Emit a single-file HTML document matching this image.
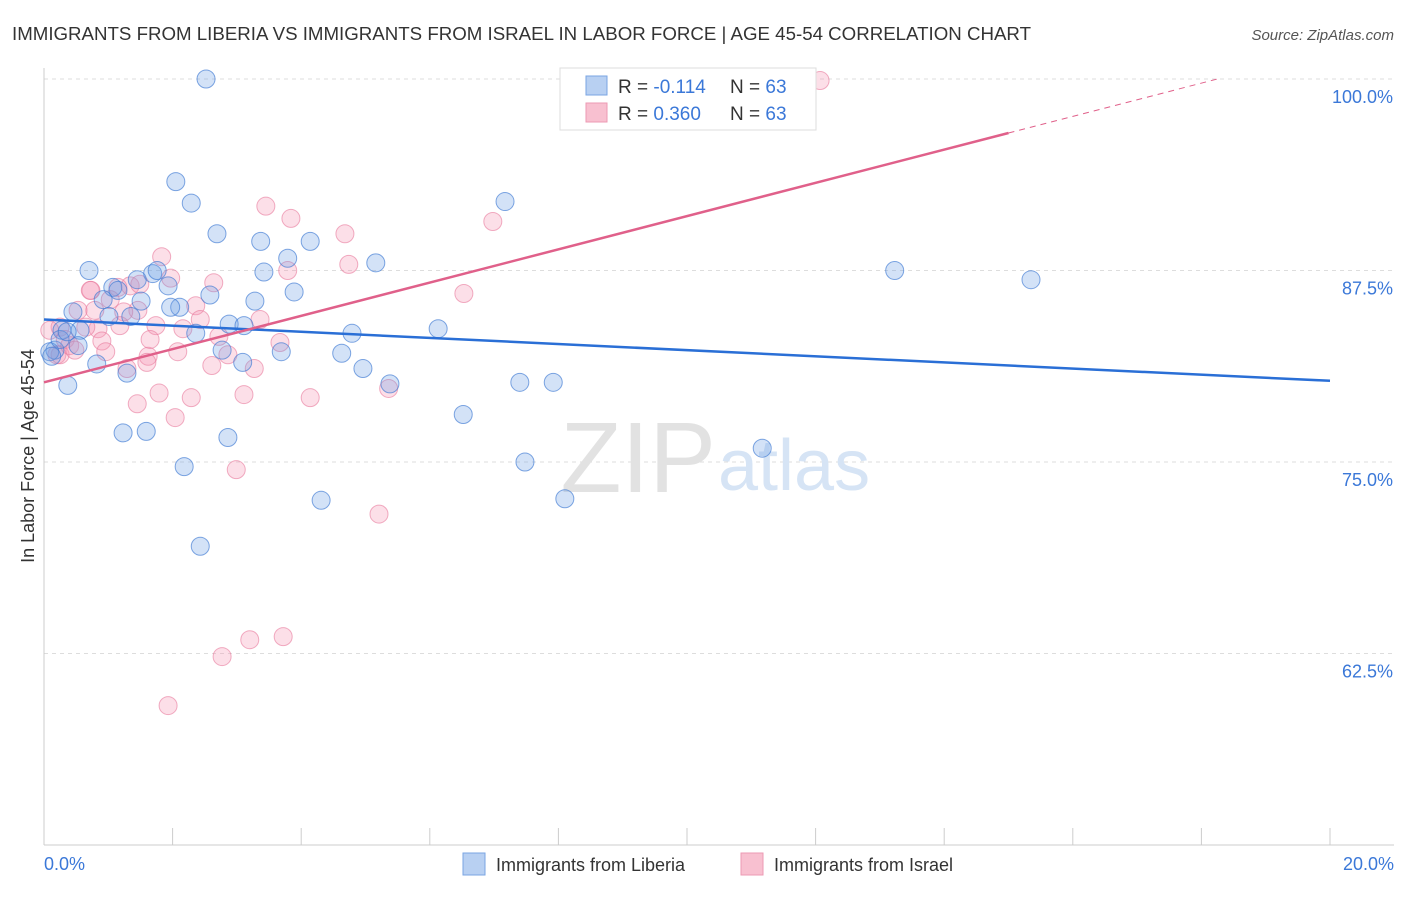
<!DOCTYPE html>
<html><head><meta charset="utf-8"><style>
body{margin:0;background:#fff;font-family:"Liberation Sans",sans-serif;}
svg text{font-family:"Liberation Sans",sans-serif;}
</style></head><body>
<svg width="1406" height="892">
<text x="12" y="40" font-size="18.7" fill="#333">IMMIGRANTS FROM LIBERIA VS IMMIGRANTS FROM ISRAEL IN LABOR FORCE | AGE 45-54 CORRELATION CHART</text>
<text x="1394" y="40" font-size="15" fill="#555" text-anchor="end" font-style="italic">Source: ZipAtlas.com</text>
<g id="grid"></g>
<text x="716" y="492" font-size="100" fill="#e2e2e2" text-anchor="end" font-family="Liberation Serif">ZIP</text>
<text x="718" y="490" font-size="72" fill="#d6e4f5">atlas</text>
<line x1="44" y1="68" x2="44" y2="845" stroke="#ccc"/>
<line x1="44" y1="845" x2="1394" y2="845" stroke="#ccc"/>
<g id="ticks"></g>
<g id="pts"></g>
<g id="lines"></g>
<text transform="translate(34,456) rotate(-90)" font-size="18" fill="#333" text-anchor="middle">In Labor Force | Age 45-54</text>
<text x="44" y="870" font-size="18" fill="#3b78d8">0.0%</text>
<text x="1394" y="870" font-size="18" fill="#3b78d8" text-anchor="end">20.0%</text>
<g>
<rect x="560" y="68" width="256" height="62" fill="#fff" stroke="#ddd"/>
<rect x="586" y="76" width="21" height="19" fill="#b8d0f2" stroke="#7aa5e3"/>
<rect x="586" y="103" width="21" height="19" fill="#f8c0d0" stroke="#ec9ab3"/>
<text x="618" y="93" font-size="19" fill="#333">R = <tspan fill="#3b78d8">-0.114</tspan></text>
<text x="730" y="93" font-size="19" fill="#333">N = <tspan fill="#3b78d8">63</tspan></text>
<text x="618" y="120" font-size="19" fill="#333">R = <tspan fill="#3b78d8">0.360</tspan></text>
<text x="730" y="120" font-size="19" fill="#333">N = <tspan fill="#3b78d8">63</tspan></text>
</g>
<g>
<rect x="463" y="853" width="22" height="22" fill="#b8d0f2" stroke="#7aa5e3"/>
<text x="496" y="871" font-size="18" fill="#333">Immigrants from Liberia</text>
<rect x="741" y="853" width="22" height="22" fill="#f8c0d0" stroke="#ec9ab3"/>
<text x="774" y="871" font-size="18" fill="#333">Immigrants from Israel</text>
</g>
</svg>
<script>
const yTicks=[100,87.5,75,62.5];
const yTickLabels=["100.0%","87.5%","75.0%","62.5%"];
const xTicks=[0,2,4,6,8,10,12,14,16,18,20];
const liberiaX=[2.52,2.05,2.29,2.69,3.37,4.14,3.79,5.16,3.42,0.70,1.69,1.76,1.45,1.93,1.07,1.15,3.89,2.58,0.92,1.51,3.28,2.11,1.97,0.45,1.01,1.35,2.88,3.11,0.28,0.56,2.36,4.79,6.13,0.53,0.17,2.77,3.69,4.63,0.82,3.09,4.96,1.29,5.38,7.40,7.92,0.37,6.52,1.23,1.59,2.86,2.18,7.48,11.17,4.31,8.10,2.43,13.23,15.35,7.17,0.09,0.12,0.25,0.36];
const liberiaY=[100,93.3,91.9,89.9,89.4,89.4,88.3,88.0,87.4,87.5,87.3,87.5,86.9,86.5,86.4,86.2,86.1,85.9,85.6,85.5,85.5,85.1,85.1,84.8,84.5,84.5,84.0,83.9,83.6,83.6,83.4,83.4,83.7,82.6,82.3,82.3,82.2,82.1,81.4,81.5,81.1,80.8,80.1,80.2,80.2,80.0,78.1,76.9,77.0,76.6,74.7,75.0,75.9,72.5,72.6,69.5,87.5,86.9,92.0,82.2,81.9,83.0,83.5];
const israelX=[11.85,12.07,8.51,3.45,3.84,6.98,4.68,1.83,4.74,3.79,1.97,2.64,0.73,1.15,1.34,6.53,2.36,1.46,0.53,1.24,1.74,2.16,0.84,0.25,0.65,2.72,3.67,0.90,0.33,0.96,2.08,1.62,2.86,0.20,2.61,1.29,3.27,1.60,5.36,1.79,2.29,3.11,4.14,1.45,2.04,2.99,5.21,3.72,3.20,2.77,1.93,0.25,0.40,0.72,1.03,0.48,0.09,1.49,1.18,0.79,1.65,2.43,3.36];
const israelY=[100,99.9,98.2,91.7,90.9,90.7,89.9,88.4,87.9,87.5,87.0,86.7,86.2,86.4,86.5,86.0,85.2,84.9,84.9,84.8,83.9,83.7,83.7,83.8,83.8,83.2,82.8,82.9,83.0,82.2,82.2,81.9,82.0,82.0,81.3,81.1,81.1,81.5,79.8,79.5,79.2,79.4,79.2,78.8,77.9,74.5,71.6,63.6,63.4,62.3,59.1,82.0,82.6,86.2,85.6,82.3,83.6,86.6,83.9,84.9,83.0,84.3,84.3];
const liberiaTrend=[84.3,-0.2];
const israelTrend=[80.2,1.085];
const X0=44,X1=1330,YT=79,PPY=191.5/12.5;
function xs(v){return X0+(v/20)*(X1-X0);}
function ys(v){return YT+(100-v)*PPY;}
const NS="http://www.w3.org/2000/svg";
function mk(tag,attrs,parent){const e=document.createElementNS(NS,tag);for(const k in attrs)e.setAttribute(k,attrs[k]);parent.appendChild(e);return e;}
const grid=document.getElementById('grid');
yTicks.forEach((t,i)=>{
  const l=mk('line',{x1:44,x2:1394,y1:ys(t),y2:ys(t),stroke:'#ddd','stroke-dasharray':'4,4'},grid);
  
  
  const tx=mk('text',{x:1393,y:ys(t)+24,'font-size':18,fill:'#3b78d8','text-anchor':'end'},grid);
  tx.textContent=yTickLabels[i];
  
  
});
const ticks=document.getElementById('ticks');
xTicks.forEach(t=>{
  const l=mk('line',{x1:xs(t),x2:xs(t),y1:828,y2:845,stroke:'#ccc'},ticks);
  
  
});
const pts=document.getElementById('pts');
function drawSeries(xsArr,ysArr,fill,stroke,name){
  xsArr.forEach((x,i)=>{
    const c=mk('circle',{cx:xs(x),cy:ys(ysArr[i]),r:9,fill:fill,stroke:stroke,'stroke-width':1},pts);
    
    
  });
}
drawSeries(israelX,israelY,'rgba(244,150,180,0.3)','rgba(232,120,155,0.6)','israel-point');
drawSeries(liberiaX,liberiaY,'rgba(110,160,230,0.3)','rgba(60,120,210,0.65)','liberia-point');
const lines=document.getElementById('lines');
const fb=liberiaTrend;
const bl=mk('line',{x1:xs(0),y1:ys(fb[0]),x2:xs(20),y2:ys(fb[0]+fb[1]*20),stroke:'#2a6fd6','stroke-width':2.5},lines);


const fp=israelTrend;
const xEnd=15;
const pl=mk('line',{x1:xs(0),y1:ys(fp[0]),x2:xs(xEnd),y2:ys(fp[0]+fp[1]*xEnd),stroke:'#e0608a','stroke-width':2.5},lines);


const xTop=(100-fp[0])/fp[1];
const pd=mk('line',{x1:xs(xEnd),y1:ys(fp[0]+fp[1]*xEnd),x2:xs(xTop),y2:ys(100),stroke:'#e0608a','stroke-width':1,'stroke-dasharray':'6,5'},lines);


</script>
</body></html>
